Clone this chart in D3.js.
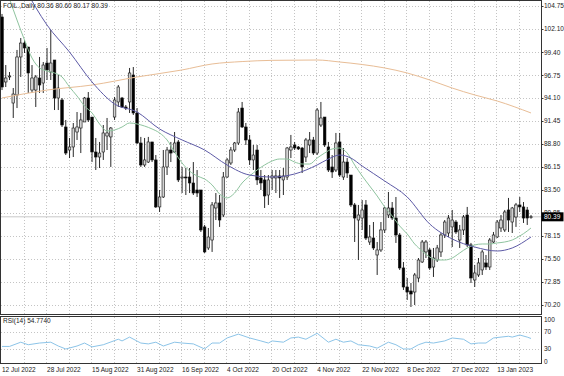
<!DOCTYPE html>
<html>
<head>
<meta charset="utf-8">
<script src="https://cdn.jsdelivr.net/npm/d3@7"></script>
<style>
  html, body { margin: 0; padding: 0; background: #fff; }
  svg { display: block; font-family: "Liberation Sans", Arial, sans-serif; }
</style>
</head>
<body>
<div id="chart"></div>
<script>
const title = 'FOIL.,Daily 80.36 80.60 80.17 80.39'
const rsiTitle = 'RSI(14) 54.7740'
const lastPrice = 80.39

// daily candles, one entry per bar
const opens = [103.48,95.97,96.55,93.54,94.47,98.86,100.47,100.01,95.04,95.04,96.43,95.85,98.16,97.12,98.51,94.12,93.89,90.77,88.11,88.46,
  90.19,90.65,91.35,94.12,91.92,87.88,87.30,87.88,89.73,89.62,91.92,93.66,94.12,93.08,93.66,96.78,92.39,88.92,86.38,86.72,
  89.04,86.96,81.53,82.68,86.15,88.11,87.88,89.04,84.88,84.99,84.99,84.30,83.49,83.49,79.22,76.79,77.71,81.41,81.99,80.60,
  84.99,86.61,88.11,88.92,92.96,90.77,89.27,86.96,88.11,84.88,84.65,82.91,84.88,84.88,85.11,84.65,84.99,88.11,88.69,88.46,
  88.34,87.30,88.69,89.27,87.76,91.00,91.92,88.46,86.15,85.80,89.04,84.99,86.72,85.22,81.76,80.02,80.25,81.76,77.48,77.94,
  75.98,76.56,78.87,80.60,81.41,80.25,78.29,74.48,72.28,71.82,71.70,73.32,75.17,76.33,76.56,74.59,75.40,76.33,78.29,78.52,
  79.22,79.79,77.71,78.87,80.60,77.14,73.09,73.67,74.25,75.06,74.59,77.48,78.06,79.10,78.87,81.18,79.79,80.37,81.76,81.53,
  81.18,80.36]
const highs = [103.83,97.93,97.12,95.27,99.67,101.05,100.82,100.01,97.93,96.78,98.86,98.28,99.90,101.98,98.51,96.78,94.12,91.58,89.50,91.23,
  92.50,92.39,94.24,94.81,91.92,89.50,89.04,91.00,91.81,90.77,94.24,95.62,94.24,93.31,97.59,97.70,92.96,89.62,89.50,89.62,
  89.04,87.53,83.49,88.11,88.46,89.04,90.19,89.27,86.15,86.03,86.03,86.72,85.80,83.49,79.45,79.10,82.10,83.14,82.91,85.57,
  87.18,88.46,89.04,92.96,93.66,91.23,89.85,88.69,88.69,85.80,85.22,85.22,85.80,85.80,85.80,86.03,88.46,89.85,89.04,88.57,
  88.46,89.50,90.19,89.62,92.96,93.66,91.92,89.04,87.53,90.08,90.08,88.34,87.18,85.22,81.99,81.76,82.33,82.33,79.45,79.79,
  77.48,79.79,81.53,83.26,82.10,82.68,78.52,75.17,73.32,72.74,73.90,75.63,77.71,77.71,76.79,76.79,77.14,78.52,80.02,80.60,
  81.18,80.02,79.45,80.60,81.53,77.37,74.83,75.63,76.56,75.98,77.94,78.64,80.02,80.60,81.18,82.57,81.53,81.99,82.68,82.10,
  81.53,80.60]
const lows = [95.04,95.39,96.20,91.81,92.96,96.55,99.32,94.70,94.70,93.08,94.70,94.70,96.20,96.20,92.73,92.73,90.77,87.53,87.18,87.30,
  89.27,87.76,91.35,91.35,86.72,85.80,86.03,86.96,88.11,86.15,91.58,93.08,92.96,92.73,92.39,92.16,88.80,86.15,86.15,86.61,
  86.72,81.41,80.95,82.57,85.22,86.72,87.76,84.41,83.14,82.91,83.14,82.91,82.68,78.64,76.21,76.56,76.33,80.02,79.22,80.37,
  84.88,86.38,87.88,88.69,90.65,88.69,86.38,85.80,84.07,83.49,81.41,81.76,83.49,83.14,82.57,82.91,84.65,87.18,88.11,88.11,
  85.45,86.72,87.76,87.53,87.53,90.77,88.46,85.57,84.88,85.57,84.99,84.65,84.88,81.53,77.48,75.40,78.87,77.71,77.14,76.56,
  73.67,76.33,78.52,80.25,80.02,77.37,74.25,71.94,70.78,69.97,70.20,72.86,75.06,75.63,74.25,73.44,75.17,75.75,77.94,78.06,
  76.90,78.41,76.79,78.29,76.90,72.74,72.28,73.44,73.67,74.25,74.25,77.37,77.94,78.64,78.64,78.64,78.52,79.22,80.95,79.68,
  79.45,80.17]
const closes = [95.39,96.43,96.66,94.58,98.86,100.47,99.90,97.01,96.43,96.55,95.62,97.93,97.36,98.16,94.12,95.27,91.00,87.76,88.46,90.65,
  90.77,91.58,94.12,91.58,87.88,87.30,87.76,90.08,90.08,90.65,93.89,95.39,93.08,92.96,97.01,92.39,88.92,86.38,86.96,89.04,
  86.96,81.53,82.68,86.15,88.11,87.76,88.92,84.65,84.99,84.88,84.30,83.14,83.14,78.87,76.33,78.06,81.76,81.99,80.02,84.99,
  86.96,88.11,88.92,92.50,90.77,89.27,86.96,87.53,84.65,84.30,82.80,84.65,85.11,85.11,84.88,85.11,88.34,88.46,88.34,88.23,
  86.15,89.27,89.27,87.76,92.73,91.81,88.69,85.80,85.57,88.92,85.22,86.72,85.45,81.76,80.25,80.60,81.18,77.94,78.06,76.79,
  76.56,78.87,81.41,81.41,80.25,78.29,74.48,72.28,71.70,71.47,73.67,75.40,77.48,77.48,74.48,75.63,76.79,78.29,79.79,80.25,
  80.02,78.64,78.87,80.37,77.14,73.32,73.90,75.06,76.33,74.59,77.71,78.29,79.79,80.02,80.95,80.02,81.41,81.76,81.53,80.25,
  80.25,80.39]

// moving averages as [bar, price]
const slowMA = [[0,94.12],[12,95.04],[24,95.62],[36,96.55],[48,97.36],[56,98.05],[64,98.33],[72,98.47],[84,98.51],[90,98.28],
  [96,97.99],[102,97.59],[108,97.01],[114,96.20],[120,95.27],[126,94.47],[132,93.77],[141,92.39]]
const midMA = [[6,106.83],[12,102.55],[18,99.43],[24,95.97],[30,93.43],[36,92.50],[42,90.54],[48,89.27],[54,88.11],[60,86.38],
  [66,85.22],[72,84.99],[78,85.34],[84,86.38],[87,87.07],[90,87.53],[93,87.18],[96,86.26],[102,84.53],[108,82.68],
  [114,79.56],[120,77.83],[126,76.90],[132,76.44],[136,76.79],[141,78.06]]
const fastMA = [[2,105.56],[4,103.13],[6,100.82],[8,98.74],[10,97.59],[12,97.24],[14,97.01],[16,96.55],[18,95.39],[20,94.35],
  [22,93.19],[24,92.39],[26,91.12],[28,90.31],[30,90.42],[32,90.77],[34,91.23],[36,91.12],[38,90.88],[40,90.54],
  [42,90.08],[44,89.27],[46,87.88],[48,86.61],[50,85.68],[52,85.11],[54,84.76],[56,84.07],[58,83.03],[60,82.57],
  [62,83.14],[64,84.30],[66,85.11],[68,85.80],[70,86.38],[72,86.84],[74,87.07],[76,87.07],[78,86.72],[80,86.49],
  [82,86.49],[84,87.18],[86,87.76],[88,88.23],[90,88.34],[92,87.76],[94,86.38],[96,85.11],[98,83.95],[100,82.80],
  [102,81.53],[104,80.49],[106,79.33],[108,78.41],[110,77.25],[112,76.44],[114,75.75],[116,75.40],[118,75.40],[120,75.63],
  [122,76.21],[124,76.79],[126,77.14],[128,77.25],[130,77.25],[132,77.37],[134,77.48],[136,77.71],[138,78.17],[140,78.75],
  [141,79.10]]

// RSI(14) as [bar, value]
const rsi = [[0,36],[2,36],[5,46],[7,40],[10,44],[13,46],[15,37],[17,30],[20,37],[22,44],[24,35],[27,40],[31,53],[32,49],
  [34,58],[37,44],[39,42],[41,46],[43,37],[46,46],[48,44],[51,42],[54,30],[56,44],[58,44],[60,56],[63,65],[66,56],
  [69,49],[71,44],[72,49],[75,46],[77,56],[79,58],[81,53],[84,67],[87,46],[89,53],[91,46],[93,49],[95,40],[98,37],
  [100,32],[103,46],[105,40],[107,30],[109,30],[111,40],[113,46],[115,44],[118,49],[120,56],[123,53],[125,42],[127,44],
  [129,44],[131,56],[133,58],[135,60],[136,58],[138,63],[140,58],[141,54.77]]

const priceTicks = [104.75,102.10,99.40,96.75,94.10,91.45,88.80,86.15,83.50,80.85,78.15,75.50,72.85,70.20]
const rsiTicks = [100,70,30,0]
const rsiLevels = [70,30]
const dateLabels = ['12 Jul 2022','28 Jul 2022','15 Aug 2022','31 Aug 2022','16 Sep 2022','4 Oct 2022',
  '20 Oct 2022','4 Nov 2022','22 Nov 2022','8 Dec 2022','27 Dec 2022','13 Jan 2023']
const dateBars = [0,12,24,36,48,60,72,84,96,108,120,132]

const width = 564, height = 376
const plotRight = 541
const main = {top: 0, bottom: 314}
const sub = {top: 316, bottom: 363}

const svg = d3.select('#chart').append('svg')
  .attr('width', width)
  .attr('height', height)

svg.append('rect').attr('width', width).attr('height', height).attr('fill', '#fff')

const x = d3.scaleLinear().domain([0, closes.length - 1]).range([2, 531])
const y = d3.scaleLinear().domain([70.20, 104.75]).range([305, 6])
const yr = d3.scaleLinear().domain([0, 100]).range([361.7, 319.3])

const defs = svg.append('defs')
defs.append('clipPath').attr('id', 'clipMain')
  .append('rect').attr('x', 1).attr('y', main.top + 1).attr('width', plotRight - 1).attr('height', main.bottom - main.top - 1)
defs.append('clipPath').attr('id', 'clipSub')
  .append('rect').attr('x', 1).attr('y', sub.top + 1).attr('width', plotRight - 1).attr('height', sub.bottom - sub.top - 1)

const gridColor = '#c4c4c4'
const gridBars = d3.range(6, closes.length, 6)

// grid, main panel
const grid = svg.append('g')
  .attr('stroke', gridColor)
  .attr('stroke-width', 1)
  .attr('stroke-dasharray', '1,2')
grid.selectAll('line.h')
  .data(priceTicks)
  .join('line')
  .attr('class', 'h')
  .attr('x1', 1).attr('x2', plotRight)
  .attr('y1', d => Math.round(y(d)) + 0.5)
  .attr('y2', d => Math.round(y(d)) + 0.5)
grid.selectAll('line.v')
  .data(gridBars)
  .join('line')
  .attr('class', 'v')
  .attr('x1', d => Math.round(x(d)) - 0.5)
  .attr('x2', d => Math.round(x(d)) - 0.5)
  .attr('y1', main.top + 1).attr('y2', main.bottom)

// grid, rsi panel
grid.selectAll('line.rh')
  .data(rsiLevels)
  .join('line')
  .attr('class', 'rh')
  .attr('x1', 1).attr('x2', plotRight)
  .attr('y1', d => Math.round(yr(d)) + 0.5)
  .attr('y2', d => Math.round(yr(d)) + 0.5)
grid.selectAll('line.rv')
  .data(gridBars)
  .join('line')
  .attr('class', 'rv')
  .attr('x1', d => Math.round(x(d)) - 0.5)
  .attr('x2', d => Math.round(x(d)) - 0.5)
  .attr('y1', sub.top + 1).attr('y2', sub.bottom)

// bid line
svg.append('line')
  .attr('x1', 1).attr('x2', plotRight)
  .attr('y1', y(lastPrice)).attr('y2', y(lastPrice))
  .attr('stroke', '#c8c8c8')
  .attr('stroke-width', 1)

// candles
const bars = closes.map((c, i) => ({i, o: opens[i], h: highs[i], l: lows[i], c}))
const candleG = svg.append('g').attr('clip-path', 'url(#clipMain)')

candleG.selectAll('line')
  .data(bars)
  .join('line')
  .attr('x1', d => x(d.i)).attr('x2', d => x(d.i))
  .attr('y1', d => y(d.h)).attr('y2', d => y(d.l))
  .attr('stroke', '#111')
  .attr('stroke-width', 0.9)

candleG.selectAll('rect')
  .data(bars)
  .join('rect')
  .attr('x', d => x(d.i) - 1.3)
  .attr('width', 2.6)
  .attr('y', d => y(Math.max(d.o, d.c)))
  .attr('height', d => Math.max(0.8, Math.abs(y(d.o) - y(d.c))))
  .attr('fill', d => d.c >= d.o ? '#d2d2d2' : '#000')
  .attr('stroke', '#111')
  .attr('stroke-width', 0.6)

// moving averages
const maLine = d3.line()
  .x(d => x(d[0]))
  .y(d => y(d[1]))
  .curve(d3.curveMonotoneX)

const maG = svg.append('g')
  .attr('clip-path', 'url(#clipMain)')
  .attr('fill', 'none')
  .attr('stroke-width', 1)

maG.append('path').attr('d', maLine(slowMA)).attr('stroke', '#e8bd96')
maG.append('path').attr('d', maLine(fastMA)).attr('stroke', '#8fc49f')
maG.append('path').attr('d', maLine(midMA)).attr('stroke', '#5d5aa6')

// rsi line
const rsiLine = d3.line()
  .x(d => x(d[0]))
  .y(d => yr(d[1]))

svg.append('g').attr('clip-path', 'url(#clipSub)')
  .append('path')
  .attr('d', rsiLine(rsi))
  .attr('fill', 'none')
  .attr('stroke', '#8cc4e8')
  .attr('stroke-width', 1)

// frames
const frameG = svg.append('g')
  .attr('fill', 'none')
  .attr('stroke', '#333')
  .attr('stroke-width', 1)
frameG.append('rect')
  .attr('x', 0.5).attr('y', main.top + 0.5)
  .attr('width', plotRight).attr('height', main.bottom - main.top)
frameG.append('rect')
  .attr('x', 0.5).attr('y', sub.top + 0.5)
  .attr('width', plotRight).attr('height', sub.bottom - sub.top)

// labels
const textColor = '#222'
const fontSize = 6.5

const priceAxis = svg.append('g')
  .attr('font-size', fontSize)
  .attr('fill', textColor)
priceAxis.selectAll('text')
  .data(priceTicks)
  .join('text')
  .attr('x', 544)
  .attr('y', d => y(d))
  .attr('dy', '0.35em')
  .text(d => d.toFixed(2))
priceAxis.selectAll('line')
  .data(priceTicks)
  .join('line')
  .attr('x1', plotRight + 0.5).attr('x2', plotRight + 2.5)
  .attr('y1', d => Math.round(y(d)) + 0.5).attr('y2', d => Math.round(y(d)) + 0.5)
  .attr('stroke', '#333')

const rsiAxis = svg.append('g')
  .attr('font-size', fontSize)
  .attr('fill', textColor)
rsiAxis.selectAll('text')
  .data(rsiTicks)
  .join('text')
  .attr('x', 544)
  .attr('y', d => yr(d))
  .attr('dy', '0.35em')
  .text(d => d)

// current price tag
svg.append('rect')
  .attr('x', plotRight + 0.5)
  .attr('y', y(lastPrice) - 4.5)
  .attr('width', 22)
  .attr('height', 9)
  .attr('fill', '#000')
svg.append('text')
  .attr('x', 544)
  .attr('y', y(lastPrice))
  .attr('dy', '0.35em')
  .attr('font-size', fontSize)
  .attr('fill', '#fff')
  .text(lastPrice.toFixed(2))

// date axis
const dateAxis = svg.append('g')
  .attr('font-size', fontSize)
  .attr('fill', textColor)
dateAxis.selectAll('text')
  .data(dateLabels)
  .join('text')
  .attr('x', (d, i) => x(dateBars[i]))
  .attr('y', 370)
  .attr('dy', '0.35em')
  .text(d => d)

svg.append('text')
  .attr('x', 3).attr('y', 6)
  .attr('dy', '0.35em')
  .attr('font-size', fontSize)
  .attr('fill', textColor)
  .text(title)

svg.append('text')
  .attr('x', 3).attr('y', 321)
  .attr('dy', '0.35em')
  .attr('font-size', fontSize)
  .attr('fill', textColor)
  .text(rsiTitle)
</script>
</body>
</html>
